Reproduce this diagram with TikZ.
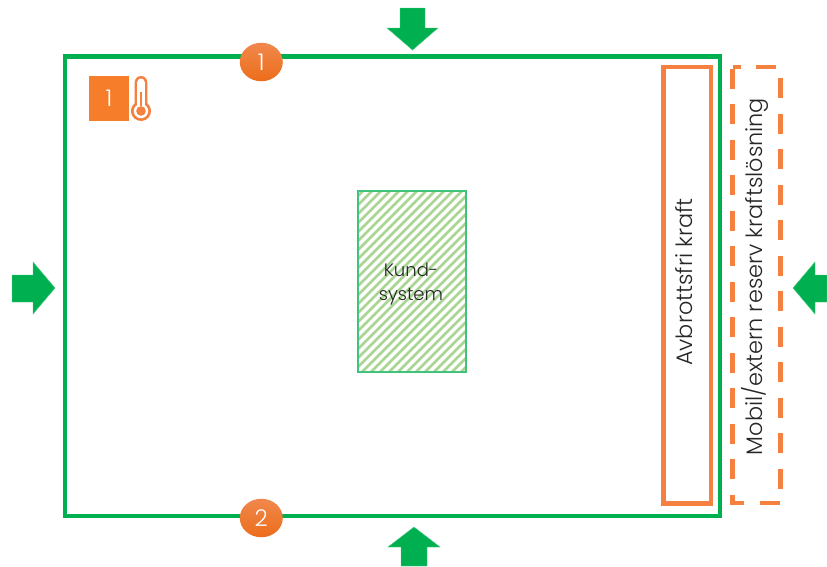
\documentclass[tikz,border=0pt]{standalone}
\usepackage{fontspec}
\setmainfont{Poppins Light}
\usetikzlibrary{shapes.geometric}
\definecolor{gr}{HTML}{00B050}
\definecolor{orf}{HTML}{F58140}
\definecolor{sqc}{HTML}{F67E2B}
\definecolor{btop}{HTML}{F0884C}
\definecolor{bbot}{HTML}{EC6D1A}
\definecolor{hatchc}{HTML}{A8D592}
\tikzset{
  x=1pt,y=-1pt,
  bluearrow/.style={fill=gr,draw=gr!70!white,line width=.4pt},
  badge/.style={ellipse,minimum width=43pt,minimum height=38.5pt,inner sep=0pt,text=white,font=\fontsize{23}{23}\selectfont,top color=btop,bottom color=bbot,draw=none},
  vlabel/.style={rotate=90,inner sep=0pt,text=black!85,font=\fontsize{22.4}{24}\selectfont},
}
\begin{document}
\begin{tikzpicture}
\useasboundingbox (0,0) rectangle (827,566);
\fill[white] (0,0) rectangle (827,566);
% arrows
\fill[bluearrow] (400,8) -- (425,8) -- (425,28) -- (438,28) -- (412.5,50) -- (387,28) -- (400,28) -- cycle;
\fill[bluearrow] (401,566) -- (427,566) -- (427,547) -- (440,547) -- (414,527) -- (388,547) -- (401,547) -- cycle;
\fill[bluearrow] (12,275) -- (33,275) -- (33,262) -- (55,288) -- (33,314) -- (33,302) -- (12,302) -- cycle;
\fill[bluearrow] (827,275) -- (815,275) -- (815,262) -- (793,288) -- (815,314) -- (815,302) -- (827,302) -- cycle;
% frame
\draw[gr,line width=4.2pt] (65,56.5) rectangle (720,516);
% hatched system
\begin{scope}
\clip (358,191) rectangle (466,372);
\foreach \i in {-26,...,14}
  \draw[hatchc,line width=2.6pt] (340+\i*9,385) -- ++(220,-220);
\end{scope}
\node[draw=gr!75!white,line width=1.1pt,minimum width=108pt,minimum height=181pt,inner sep=0pt] (kund) at (412,281.5) {};
\node[inner sep=0pt,align=center,text=black!85,font=\fontsize{18}{24}\selectfont] (kundt) at (411,284) {Kund-\\system};
% orange boxes
\node[draw=orf,line width=4.6pt,minimum width=47.5pt,minimum height=436.5pt,inner sep=0pt] (avb) at (687.2,285.2) {};
\node[vlabel] (avbt) at (684,282) {Avbrottsfri kraft};
\draw[orf,line width=4.6pt,dash pattern=on 20pt off 15.5pt,dash phase=12pt] (732.5,67) -- (780.5,67) -- (780.5,503) -- (732.5,503) -- cycle;
\node[vlabel] (mob) at (754.5,276.5) {Mobil/extern reserv kraftslösning};
% badges
\node[badge] (b1) at (261.3,62) {1};
\node[badge] (b2) at (261.3,518) {2};
% square & thermometer
\node[fill=sqc,minimum width=40pt,minimum height=45pt,inner sep=0pt,text=white,font=\fontsize{23}{23}\selectfont] (sq) at (109,98.5) {1};
\fill[orf] (134.7,82.3) arc[start angle=180,end angle=360,radius=6.3] -- (147.3,103.2) arc[start angle=-51,end angle=231,radius=10] -- cycle;
\fill[white] (137.2,82.3) arc[start angle=180,end angle=360,radius=3.8] -- (144.8,104.9) arc[start angle=-58,end angle=238,radius=7.2] -- cycle;
\fill[orf] (139.9,92) rectangle (142.1,106);
\fill[orf] (141,111) circle[radius=4.8];
\end{tikzpicture}
\end{document}
